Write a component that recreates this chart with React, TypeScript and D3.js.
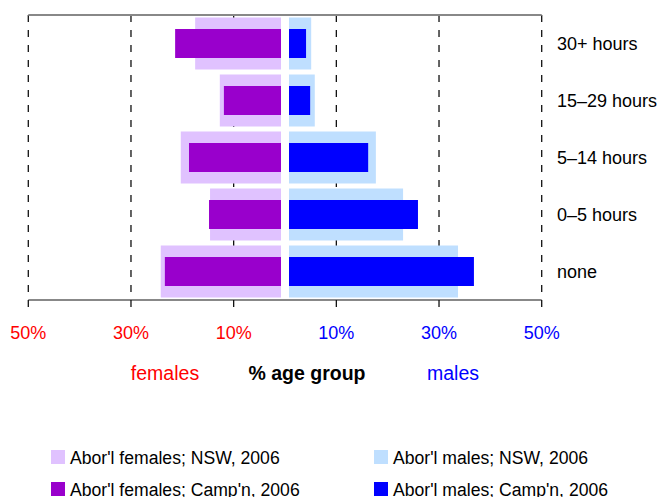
import * as d3 from 'd3';
import { useEffect, useRef } from 'react';

const categories = ['30+ hours', '15–29 hours', '5–14 hours', '0–5 hours', 'none'];
const femalesNSW = [17.5, 12.7, 20.3, 14.6, 24.2];
const femalesCamp = [21.4, 11.9, 18.7, 14.8, 23.4];
const malesNSW = [5.1, 5.8, 17.7, 23.0, 33.7];
const malesCamp = [4.1, 4.9, 16.2, 25.9, 36.8];
const tickValues = [50, 30, 10];
const tickLabels = ['50%', '30%', '10%'];
const legendItems = [
  { label: "Abor'l females; NSW, 2006", color: '#e0c2ff' },
  { label: "Abor'l males; NSW, 2006", color: '#bfdfff' },
  { label: "Abor'l females; Camp'n, 2006", color: '#9900cc' },
  { label: "Abor'l males; Camp'n, 2006", color: '#0000ff' },
];

const FONT = '"Liberation Sans", Arial, Helvetica, sans-serif';

const App = () => {
  const svgRef = useRef<SVGSVGElement | null>(null);

  useEffect(() => {
    const svg = d3.select(svgRef.current);
    svg.selectAll('*').remove();

    const mid = 285;
    const gap = 4;
    const top = 15;
    const bottom = 300;

    const xL = d3.scaleLinear().domain([0, 50]).range([mid, 28.3]);
    const xR = d3.scaleLinear().domain([0, 50]).range([mid, 541.7]);
    const y = d3.scaleBand()
      .domain(categories)
      .range([top, bottom])
      .paddingInner(5 / 57)
      .paddingOuter(2.5 / 57);

    // dashed gridlines
    const grid = svg.append('g');
    tickValues.forEach(v => {
      [xL(v), xR(v)].forEach(x => {
        grid.append('line')
          .attr('x1', x).attr('x2', x)
          .attr('y1', top).attr('y2', bottom)
          .attr('stroke', '#111')
          .attr('stroke-width', 1.3)
          .attr('stroke-dasharray', '7,8');
      });
    });

    const wide = y.bandwidth();
    const narrow = 29;
    const narrowOff = (wide - narrow) / 2;

    const rows = categories.map((c, i) => ({
      c, fN: femalesNSW[i], fC: femalesCamp[i], mN: malesNSW[i], mC: malesCamp[i],
    }));

    // wide bars (NSW)
    svg.selectAll('.fN').data(rows).enter().append('rect')
      .attr('x', d => xL(d.fN))
      .attr('y', d => y(d.c)!)
      .attr('width', d => mid - gap - xL(d.fN))
      .attr('height', wide)
      .attr('fill', '#e0c2ff');
    svg.selectAll('.mN').data(rows).enter().append('rect')
      .attr('x', mid + gap)
      .attr('y', d => y(d.c)!)
      .attr('width', d => xR(d.mN) - mid - gap)
      .attr('height', wide)
      .attr('fill', '#bfdfff');

    // narrow bars (Campbelltown)
    svg.selectAll('.fC').data(rows).enter().append('rect')
      .attr('x', d => xL(d.fC))
      .attr('y', d => y(d.c)! + narrowOff)
      .attr('width', d => mid - gap - xL(d.fC))
      .attr('height', narrow)
      .attr('fill', '#9900cc');
    svg.selectAll('.mC').data(rows).enter().append('rect')
      .attr('x', mid + gap)
      .attr('y', d => y(d.c)! + narrowOff)
      .attr('width', d => xR(d.mC) - mid - gap)
      .attr('height', narrow)
      .attr('fill', '#0000ff');

    // top and bottom axis lines
    [top, bottom].forEach(yy => {
      svg.append('line')
        .attr('x1', xL(50)).attr('x2', xR(50))
        .attr('y1', yy).attr('y2', yy)
        .attr('stroke', '#888')
        .attr('stroke-width', 2);
    });

    // ticks and tick labels
    tickValues.forEach((v, i) => {
      [{ x: xL(v), col: '#ff0000' }, { x: xR(v), col: '#0000ff' }].forEach(t => {
        svg.append('line')
          .attr('x1', t.x).attr('x2', t.x)
          .attr('y1', bottom).attr('y2', bottom + 7)
          .attr('stroke', '#111')
          .attr('stroke-width', 1.3);
        svg.append('text')
          .attr('x', t.x).attr('y', 338.5)
          .attr('text-anchor', 'middle')
          .attr('font-family', FONT)
          .attr('font-size', 18)
          .attr('fill', t.col)
          .text(tickLabels[i]);
      });
    });

    // category labels
    svg.selectAll('.cat').data(categories).enter().append('text')
      .attr('x', 557)
      .attr('y', d => y(d)! + wide / 2)
      .attr('dy', '0.36em')
      .attr('font-family', FONT)
      .attr('font-size', 18)
      .attr('fill', '#000')
      .text(d => d);

    // axis titles
    const titles = [
      { t: 'females', x: 165, col: '#ff0000', w: 'normal' },
      { t: '% age group', x: 307, col: '#000', w: 'bold' },
      { t: 'males', x: 453, col: '#0000ff', w: 'normal' },
    ];
    titles.forEach(d => {
      svg.append('text')
        .attr('x', d.x).attr('y', 380)
        .attr('text-anchor', 'middle')
        .attr('font-family', FONT)
        .attr('font-size', 19.5)
        .attr('font-weight', d.w)
        .attr('fill', d.col)
        .text(d.t);
    });

    // legend
    legendItems.forEach((d, i) => {
      const lx = i % 2 === 0 ? 51 : 374;
      const ly = i < 2 ? 450 : 482;
      svg.append('rect')
        .attr('x', lx).attr('y', ly)
        .attr('width', 14).attr('height', 14)
        .attr('fill', d.color);
      svg.append('text')
        .attr('x', lx + 19).attr('y', ly + 13.5)
        .attr('font-family', FONT)
        .attr('font-size', 17.6)
        .attr('fill', '#000')
        .text(d.label);
    });
  }, []);

  return (
    <svg
      ref={svgRef}
      width={657}
      height={497}
      style={{ position: 'absolute', left: 0, top: 0, background: '#fff' }}
    ></svg>
  );
};

export default App;
